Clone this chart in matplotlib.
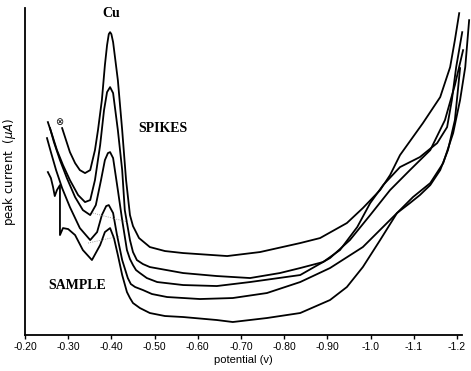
import matplotlib
matplotlib.use("Agg")
import matplotlib.pyplot as plt

# potential (V) and peak current (arbitrary units)
pot_a = [-0.286, -0.295, -0.304, -0.316, -0.327, -0.339, -0.351, -0.362, -0.369, -0.378, -0.385,
         -0.390, -0.394, -0.397, -0.400, -0.404, -0.415, -0.425, -0.434, -0.443, -0.450, -0.464,
         -0.489, -0.524, -0.566, -0.668, -0.744, -0.837, -0.883, -0.945, -0.982, -1.022, -1.045,
         -1.068, -1.121, -1.161, -1.184, -1.195, -1.205]
cur_a = [20.7, 19.5, 18.3, 17.2, 16.5, 16.2, 16.5, 18.5, 20.5, 23.5, 27.0,
         29.0, 30.1, 30.3, 30.1, 29.3, 25.5, 20.5, 15.5, 12.0, 10.9, 9.7,
         8.8, 8.4, 8.2, 7.9, 8.3, 9.2, 9.7, 11.2, 12.7, 14.5, 16.0,
         18.0, 21.2, 23.8, 26.8, 29.5, 32.2]

pot_b = [-0.253, -0.263, -0.274, -0.288, -0.304, -0.323, -0.339, -0.351, -0.362, -0.374, -0.383,
         -0.390, -0.397, -0.404, -0.415, -0.425, -0.431, -0.443, -0.450, -0.459, -0.473, -0.489,
         -0.566, -0.644, -0.721, -0.790, -0.837, -0.890, -0.929, -0.969, -0.999, -1.029, -1.068,
         -1.114, -1.154, -1.177, -1.188, -1.198, -1.212]
cur_b = [21.3, 20.0, 18.5, 17.0, 15.5, 14.0, 13.3, 13.5, 15.5, 19.0, 22.5,
         24.3, 24.8, 24.2, 20.5, 16.5, 12.5, 9.5, 8.3, 7.5, 7.1, 6.8,
         6.2, 5.9, 5.7, 6.2, 6.7, 7.3, 8.5, 10.8, 13.2, 15.0, 16.8,
         17.8, 19.2, 20.8, 23.5, 26.8, 30.3]

pot_c = [-0.258, -0.267, -0.281, -0.297, -0.316, -0.334, -0.351, -0.364, -0.376, -0.385, -0.392,
         -0.397, -0.404, -0.415, -0.425, -0.436, -0.443, -0.450, -0.457, -0.466, -0.482, -0.506,
         -0.566, -0.644, -0.721, -0.837, -0.906, -0.952, -0.999, -1.045, -1.091, -1.138, -1.172,
         -1.195, -1.214]
cur_c = [20.7, 19.3, 17.5, 15.7, 13.8, 12.5, 12.0, 13.0, 15.5, 17.5, 18.2,
         18.3, 17.7, 14.5, 11.5, 8.5, 7.6, 7.0, 6.5, 6.2, 5.7, 5.3,
         5.0, 4.9, 5.3, 6.0, 7.7, 9.5, 12.0, 14.5, 16.5, 18.5, 21.5,
         25.0, 28.5]

pot_d = [-0.251, -0.260, -0.272, -0.286, -0.304, -0.327, -0.351, -0.367, -0.378, -0.388, -0.394,
         -0.404, -0.413, -0.425, -0.438, -0.445, -0.455, -0.473, -0.494, -0.529, -0.605, -0.681,
         -0.760, -0.837, -0.906, -0.982, -1.061, -1.098, -1.138, -1.168, -1.191, -1.207, -1.219,
         -1.228]
cur_d = [19.7, 18.3, 16.5, 14.7, 12.8, 10.7, 9.5, 10.3, 12.0, 12.9, 13.0,
         12.2, 10.0, 7.5, 5.7, 5.1, 4.8, 4.5, 4.1, 3.8, 3.6, 3.7,
         4.2, 5.3, 6.7, 8.8, 12.2, 13.8, 15.2, 17.2, 20.2, 23.5, 26.8,
         31.5]

# sample scan (lowest trace)
pot_e = [-0.253, -0.260, -0.265, -0.269, -0.274, -0.281, -0.281, -0.288, -0.300, -0.316, -0.334,
         -0.355, -0.374, -0.385, -0.397, -0.406, -0.415, -0.425, -0.436, -0.443, -0.450, -0.466,
         -0.489, -0.524, -0.566, -0.644, -0.681, -0.760, -0.837, -0.906, -0.945, -0.982, -1.022,
         -1.061, -1.091, -1.114, -1.138, -1.161, -1.179, -1.195, -1.202, -1.207]
cur_e = [16.3, 15.7, 14.8, 13.9, 14.5, 15.0, 10.0, 10.7, 10.6, 10.0, 8.5,
         7.5, 9.0, 10.3, 10.7, 9.7, 8.0, 6.0, 4.3, 3.7, 3.2, 2.7,
         2.2, 1.9, 1.8, 1.5, 1.3, 1.7, 2.2, 3.5, 4.8, 6.8, 9.5,
         12.2, 13.2, 14.0, 15.0, 16.5, 18.5, 21.5, 24.5, 26.7]

# faint baseline guides drawn under the peaks
base_pot = [[-0.346, -0.420], [-0.357, -0.438]]
base_cur = [[9.2, 9.9], [12.2, 11.3]]

xticks = [-0.2, -0.3, -0.4, -0.5, -0.6, -0.7, -0.8, -0.9, -1.0, -1.1, -1.2]
xlabels = ["-0.20", "-0.30", "-0.40", "-0.50", "-0.60", "-0.70", "-0.80", "-0.90", "-1.0", "-1.1", "-1.2"]

fig = plt.figure(figsize=(4.71, 3.71), dpi=100)
ax = fig.add_axes([0.053, 0.097, 0.928, 0.881])

for p, c in zip([pot_a, pot_b, pot_c, pot_d, pot_e], [cur_a, cur_b, cur_c, cur_d, cur_e]):
    ax.plot(p, c, color="black", lw=1.3, solid_joinstyle="round", clip_on=False)
for p, c in zip(base_pot, base_cur):
    ax.plot(p, c, color="gray", lw=0.6, ls=":")

ax.set_xlim(-0.2, -1.2116)
ax.set_ylim(0, 32.7)
ax.spines["top"].set_visible(False)
ax.spines["right"].set_visible(False)
ax.spines["left"].set_linewidth(1.3)
ax.spines["bottom"].set_linewidth(1.3)
ax.set_yticks([])
ax.set_xticks(xticks)
ax.set_xticklabels(xlabels, fontsize=7.5, family="Liberation Sans")
ax.tick_params(axis="x", direction="out", length=3, width=1, pad=2)

ax.set_xlabel("potential (v)", fontsize=8, family="Liberation Sans", labelpad=2)
ax.set_ylabel(r"peak current  ($\mu A$)", fontsize=8.5, labelpad=5)

serif = dict(family="Liberation Serif", weight="bold", fontsize=10)
ax.text(-0.399, 32.2, "Cu", ha="center", va="center", clip_on=False, **serif)
ax.text(-0.462, 20.7, "SPIKES", ha="left", va="center", **serif)
ax.text(-0.253, 5.0, "SAMPLE", ha="left", va="center", **serif)
ax.text(-0.279, 21.3, "\u2297", ha="center", va="center", fontsize=7)

fig.savefig("out.png", dpi=100)
